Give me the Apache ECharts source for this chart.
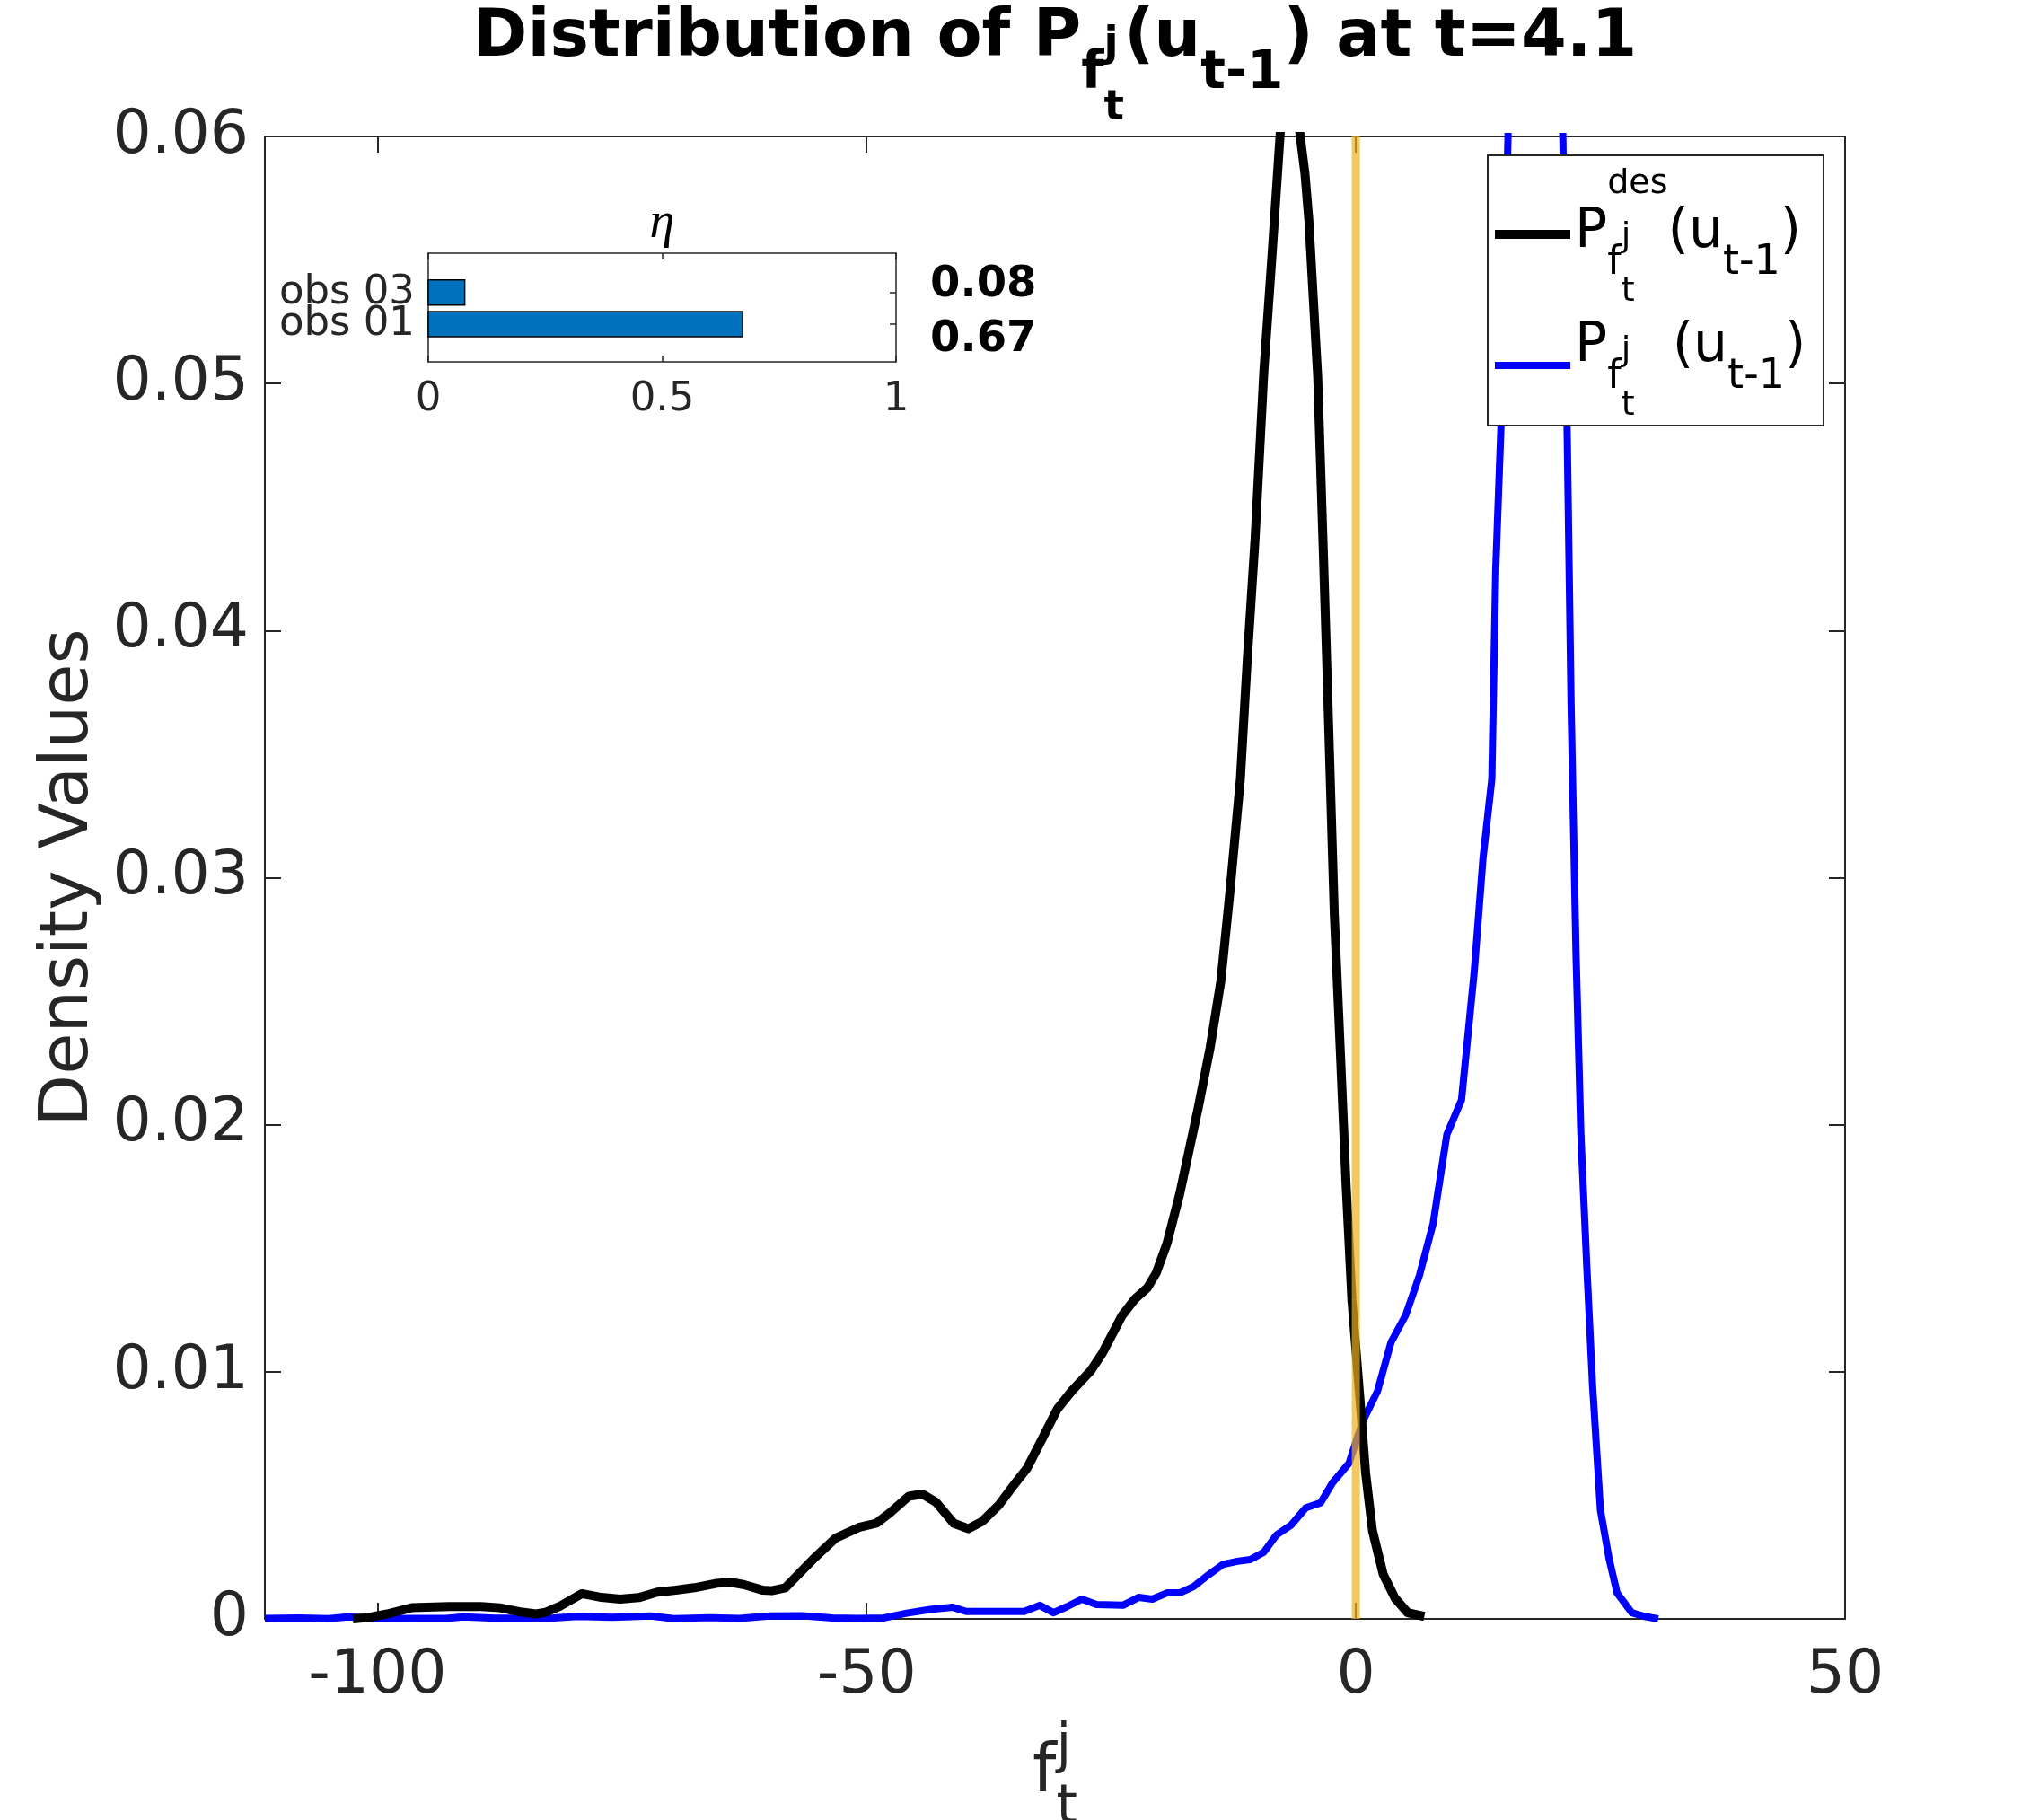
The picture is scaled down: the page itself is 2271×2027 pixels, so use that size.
<!DOCTYPE html>
<html>
<head>
<meta charset="utf-8">
<title>Distribution of P</title>
<script src="https://cdn.jsdelivr.net/npm/echarts@6.0.0/dist/echarts.min.js"></script>
<style>
html, body { margin: 0; padding: 0; background: #fff; }
#main { width: 2271px; height: 2027px; }
</style>
</head>
<body>
<div id="main"></div>
<script>
// density curves, [f, density]
var desDensity = [
  [-102.5, 0], [-101, 0.00005], [-99, 0.0002], [-96.5, 0.00045], [-92.7, 0.0005],
  [-89.4, 0.0005], [-87.5, 0.00045], [-85.2, 0.00027], [-83.8, 0.0002], [-82.8, 0.00027],
  [-81.4, 0.0005], [-79.1, 0.00102], [-77.1, 0.00087], [-75.2, 0.0008], [-73.3, 0.00086],
  [-71.4, 0.00108], [-69.5, 0.00116], [-67.6, 0.00126], [-65.3, 0.00144], [-63.9, 0.00148],
  [-62.5, 0.00138], [-60.6, 0.00116], [-59.7, 0.00114], [-58.3, 0.00126], [-55.5, 0.0024],
  [-53.2, 0.00326], [-50.8, 0.0037], [-49.0, 0.00387], [-47.6, 0.0043], [-45.7, 0.00496],
  [-44.3, 0.00505], [-42.9, 0.00472], [-41.1, 0.00387], [-39.6, 0.00365], [-38.2, 0.00394],
  [-36.5, 0.0046], [-35.1, 0.00534], [-33.6, 0.0061], [-32.0, 0.00733], [-30.5, 0.0085],
  [-29.0, 0.00924], [-27.1, 0.01004], [-25.9, 0.01076], [-23.9, 0.01227], [-22.6, 0.01294],
  [-21.3, 0.0134], [-20.4, 0.014], [-19.3, 0.0152], [-18.0, 0.0172], [-16.1, 0.0207],
  [-14.9, 0.0231], [-13.8, 0.0258], [-12.9, 0.0293], [-11.8, 0.034], [-11.1, 0.0388],
  [-10.3, 0.0437], [-9.4, 0.0505], [-8.6, 0.055], [-7.7, 0.0603], [-6.9, 0.0625],
  [-6.0, 0.061], [-5.2, 0.0585], [-4.8, 0.0566], [-3.9, 0.0503], [-3.3, 0.0429],
  [-2.7, 0.0351], [-2.2, 0.0285], [-1.6, 0.0231], [-1.0, 0.0176], [-0.4, 0.0129],
  [0.4, 0.009], [1.0, 0.0059], [1.7, 0.00357], [2.8, 0.0018], [4.0, 0.00084],
  [5.3, 0.00025], [7.0, 0.0001]
];
var predDensity = [
  [-111.5, 0.00002], [-108, 0.00004], [-105, 0.00001], [-103, 0.00008], [-100, 0.00001],
  [-96, 0.00002], [-93, 0.00002], [-91.2, 0.00008], [-88, 0.00003], [-84, 0.00003],
  [-82, 0.00004], [-79.5, 0.0001], [-76, 0.00006], [-72.1, 0.00012], [-69.7, 0.00001],
  [-66, 0.00005], [-63, 0.00002], [-59.9, 0.00012], [-56.6, 0.00013], [-53.5, 0.00004],
  [-51, 0.00002], [-48.2, 0.00004], [-45.9, 0.00023], [-43.5, 0.00038], [-41.2, 0.00047],
  [-39.8, 0.0003], [-36, 0.0003], [-33.9, 0.0003], [-32.3, 0.00055], [-30.9, 0.00025],
  [-29.5, 0.0005], [-28.0, 0.0008], [-26.5, 0.00058], [-23.8, 0.00055], [-22.2, 0.00087],
  [-20.8, 0.0008], [-19.3, 0.00105], [-18.0, 0.00105], [-16.6, 0.0013], [-15.0, 0.0018],
  [-13.6, 0.0022], [-12.1, 0.00233], [-10.8, 0.0024], [-9.4, 0.0027], [-8.1, 0.0034],
  [-6.6, 0.0038], [-5.1, 0.0045], [-3.6, 0.0047], [-2.4, 0.0055], [-0.7, 0.0063],
  [0.7, 0.008], [2.2, 0.0092], [3.6, 0.0112], [5.1, 0.0123], [6.5, 0.0139],
  [7.9, 0.016], [9.3, 0.0196], [10.8, 0.021], [12.1, 0.0262], [13.0, 0.0308],
  [13.9, 0.034], [14.3, 0.0425], [14.9, 0.049], [15.7, 0.0625], [16.6, 0.072],
  [17.5, 0.078], [18.4, 0.08], [19.3, 0.078], [20.2, 0.072], [21.1, 0.0615],
  [21.6, 0.048], [22.0, 0.037], [22.5, 0.027], [23.0, 0.0196], [23.6, 0.0143],
  [24.2, 0.0094], [25.0, 0.0044], [25.9, 0.0024], [26.7, 0.00105], [28.2, 0.00025],
  [29.5, 0.0001], [30.9, 0]
];
var refX = 0;                       // vertical reference line
var xRange = [-111.5, 50];
var xTicks = [-100, -50, 0, 50];
var yRange = [0, 0.06];

// inset: eta weights per observation (bottom to top)
var etaNames = ['obs 01', 'obs 03'];
var etaValues = [0.672, 0.078];
var etaRange = [-0.2, 3.25];

// layout (px)
var G = { left: 295, top: 152, width: 1760, height: 1651 };
var INSET = { left: 477, top: 282, width: 521, height: 121 };
var FONT = 'DejaVu Sans';
var AX = '#262626';
var W_DES = 10, W_PRED = 8;

var mctx = document.createElement('canvas').getContext('2d');
function fontStr(size, weight, style, family) {
  return (style || 'normal') + ' ' + (weight || 'normal') + ' ' + size + 'px ' + (family || FONT);
}
// distance from canvas 'middle' line down to the alphabetic baseline
function midToBase(font, size) {
  mctx.font = font;
  mctx.textBaseline = 'middle';
  var d = mctx.measureText('H').actualBoundingBoxDescent;
  mctx.textBaseline = 'alphabetic';
  return isFinite(d) ? d : 0.35 * size;
}
// lay out runs of text with sub/superscripts, returns graphic elements
function typeset(runs, o) {
  var cur = 0, maxX = 0, marks = {}, placed = [];
  runs.forEach(function (r) {
    if (r.jump) { cur = maxX; return; }
    var f = fontStr(r.s, o.weight, o.style, o.family);
    mctx.font = f;
    var w = mctx.measureText(r.t).width;
    var sx = r.from != null ? marks[r.from] : cur;
    if (r.save) marks[r.save] = sx;
    placed.push({ t: r.t, s: r.s, x: sx, dy: r.dy || 0, font: f });
    cur = sx + w;
    maxX = Math.max(maxX, cur);
  });
  var x0 = o.anchor === 'center' ? o.x - maxX / 2 : o.x;
  return placed.filter(function (p) { return p.t.trim() !== ''; }).map(function (p) {
    return {
      type: 'text', z: 100, silent: true,
      x: x0 + p.x,
      y: o.baseline + p.dy - midToBase(p.font, p.s),
      style: { text: p.t, font: p.font, fill: o.color || '#000', align: 'left', verticalAlign: 'middle' }
    };
  });
}

var cx = G.left + G.width / 2;

var titleEls = typeset([
  { t: 'Distribution of P', s: 73 },
  { t: 'f', s: 58, dy: 36 },
  { t: 't', s: 47, dy: 71, save: 'b' },
  { t: 'j', s: 47, dy: 0, from: 'b' },
  { jump: true },
  { t: '(u', s: 73 },
  { t: 't-1', s: 58, dy: 36 },
  { t: ') at t=4.1', s: 73 }
], { x: cx, baseline: 62, anchor: 'center', weight: 'bold' });

var xNameEls = typeset([
  { t: 'f', s: 75 },
  { t: 't', s: 60, dy: 35, save: 'b' },
  { t: 'j', s: 60, dy: -33, from: 'b' }
], { x: cx, baseline: 1995, anchor: 'center', color: AX });

var etaTitleEls = typeset([{ t: '\u03B7', s: 56 }], {
  x: INSET.left + INSET.width / 2, baseline: 264, anchor: 'center',
  style: 'italic', family: 'Liberation Serif'
});

function legendRow(sup, baseline) {
  return typeset([
    { t: 'P', s: 60 },
    { t: sup, s: 38, dy: -60, save: 'a' },
    { t: 'f', s: 44, dy: 30, from: 'a' },
    { t: 't', s: 38, dy: 60, save: 'b' },
    { t: 'j', s: 38, dy: -1, from: 'b' },
    { jump: true },
    { t: '(u', s: 60 },
    { t: 't-1', s: 46, dy: 30 },
    { t: ')', s: 60 }
  ], { x: 1754, baseline: baseline });
}

var legendEls = [
  { type: 'rect', z: 100, silent: true, shape: { x: 1657, y: 173, width: 374, height: 301 },
    style: { fill: '#fff', stroke: AX, lineWidth: 2 } },
  { type: 'line', z: 100, silent: true, shape: { x1: 1665, y1: 261, x2: 1749, y2: 261 },
    style: { stroke: '#000', lineWidth: W_DES } },
  { type: 'line', z: 100, silent: true, shape: { x1: 1665, y1: 407, x2: 1749, y2: 407 },
    style: { stroke: '#0000FF', lineWidth: W_PRED } }
].concat(legendRow('des', 275), legendRow('      ', 402));

// value labels next to the inset, nudged off the bar centres
var etaLabelNudge = [18, -8];

function boxAxis(extra) {
  var base = {
    type: 'value',
    axisLine: { show: true, onZero: false, lineStyle: { color: AX, width: 2 } },
    axisTick: { show: true, inside: true, length: 18, lineStyle: { color: AX, width: 2 } },
    axisLabel: { show: false },
    splitLine: { show: false }
  };
  return echarts.util.merge(base, extra, true);
}
function insetAxis(extra) {
  var base = {
    type: 'value', gridIndex: 1,
    axisLine: { show: true, onZero: false, lineStyle: { color: AX, width: 1.5 } },
    axisTick: { show: true, inside: true, length: 7, lineStyle: { color: AX, width: 1.5 } },
    axisLabel: { show: false },
    splitLine: { show: false }
  };
  return echarts.util.merge(base, extra, true);
}

var myChart = echarts.init(document.getElementById('main'), null, { renderer: 'canvas' });

option = {
  backgroundColor: '#fff',
  animation: false,
  grid: [
    { left: G.left, top: G.top, width: G.width, height: G.height, containLabel: false, outerBoundsMode: 'none' },
    { left: INSET.left, top: INSET.top, width: INSET.width, height: INSET.height, containLabel: false, outerBoundsMode: 'none' }
  ],
  xAxis: [
    boxAxis({ gridIndex: 0, position: 'bottom', min: xRange[0], max: xRange[1],
      axisTick: { customValues: xTicks },
      axisLabel: { show: true, customValues: xTicks, margin: 30, fontSize: 68, fontFamily: FONT, color: AX } }),
    boxAxis({ gridIndex: 0, position: 'top', min: xRange[0], max: xRange[1],
      axisTick: { customValues: xTicks } }),
    insetAxis({ position: 'bottom', min: 0, max: 1, interval: 0.5,
      axisLabel: { show: true, margin: 20, fontSize: 45, fontFamily: FONT, color: AX } }),
    insetAxis({ position: 'top', min: 0, max: 1, interval: 0.5 })
  ],
  yAxis: [
    boxAxis({ gridIndex: 0, position: 'left', min: yRange[0], max: yRange[1], interval: 0.01,
      axisLabel: { show: true, margin: 18, fontSize: 68, fontFamily: FONT, color: AX },
      name: 'Density Values', nameLocation: 'middle', nameGap: 173,
      nameTextStyle: { fontSize: 75, fontFamily: FONT, color: AX } }),
    boxAxis({ gridIndex: 0, position: 'right', min: yRange[0], max: yRange[1], interval: 0.01 }),
    insetAxis({ position: 'left', min: etaRange[0], max: etaRange[1],
      axisTick: { customValues: [1, 2] } }),
    insetAxis({ position: 'right', min: etaRange[0], max: etaRange[1],
      axisTick: { customValues: [1, 2] } })
  ],
  series: [
    {
      type: 'line', name: 'predicted', xAxisIndex: 0, yAxisIndex: 0,
      data: predDensity, symbol: 'none', clip: true, z: 3,
      lineStyle: { color: '#0000FF', width: W_PRED, join: 'round' }, itemStyle: { color: '#0000FF' }
    },
    {
      type: 'line', name: 'desired', xAxisIndex: 0, yAxisIndex: 0,
      data: desDensity, symbol: 'none', clip: true, z: 4,
      lineStyle: { color: '#000', width: W_DES, join: 'round' }, itemStyle: { color: '#000' }
    },
    {
      type: 'line', name: 'ref', xAxisIndex: 0, yAxisIndex: 0,
      data: [[refX, yRange[0]], [refX, yRange[1]]], symbol: 'none', z: 5,
      lineStyle: { color: '#EDB120', width: 9, opacity: 0.7 }
    },
    {
      // inset bars, with the observation name on the left and the value on the right
      type: 'custom', name: 'eta', xAxisIndex: 2, yAxisIndex: 2, z: 6,
      data: etaValues.map(function (v, i) { return [v, i + 1]; }),
      renderItem: function (params, api) {
        var v = api.value(0), y = api.value(1);
        var p0 = api.coord([0, y]), p1 = api.coord([v, y]);
        var right = api.coord([1, y])[0];
        var h = api.size([0, 0.8])[1];
        return {
          type: 'group',
          children: [
            { type: 'rect', shape: { x: p0[0], y: p0[1] - h / 2, width: p1[0] - p0[0], height: h },
              style: { fill: '#0072BD', stroke: '#000', lineWidth: 1.5 } },
            { type: 'text', x: p0[0] - 15, y: p0[1],
              style: { text: etaNames[params.dataIndex], font: fontStr(45), fill: AX,
                align: 'right', verticalAlign: 'middle' } },
            { type: 'text', x: right + 38, y: p0[1] + etaLabelNudge[params.dataIndex],
              style: { text: v.toFixed(2), font: fontStr(48, 'bold'), fill: '#000',
                align: 'left', verticalAlign: 'middle' } }
          ]
        };
      }
    }
  ],
  graphic: { elements: titleEls.concat(xNameEls, etaTitleEls, legendEls) }
};

myChart.setOption(option);
</script>
</body>
</html>
